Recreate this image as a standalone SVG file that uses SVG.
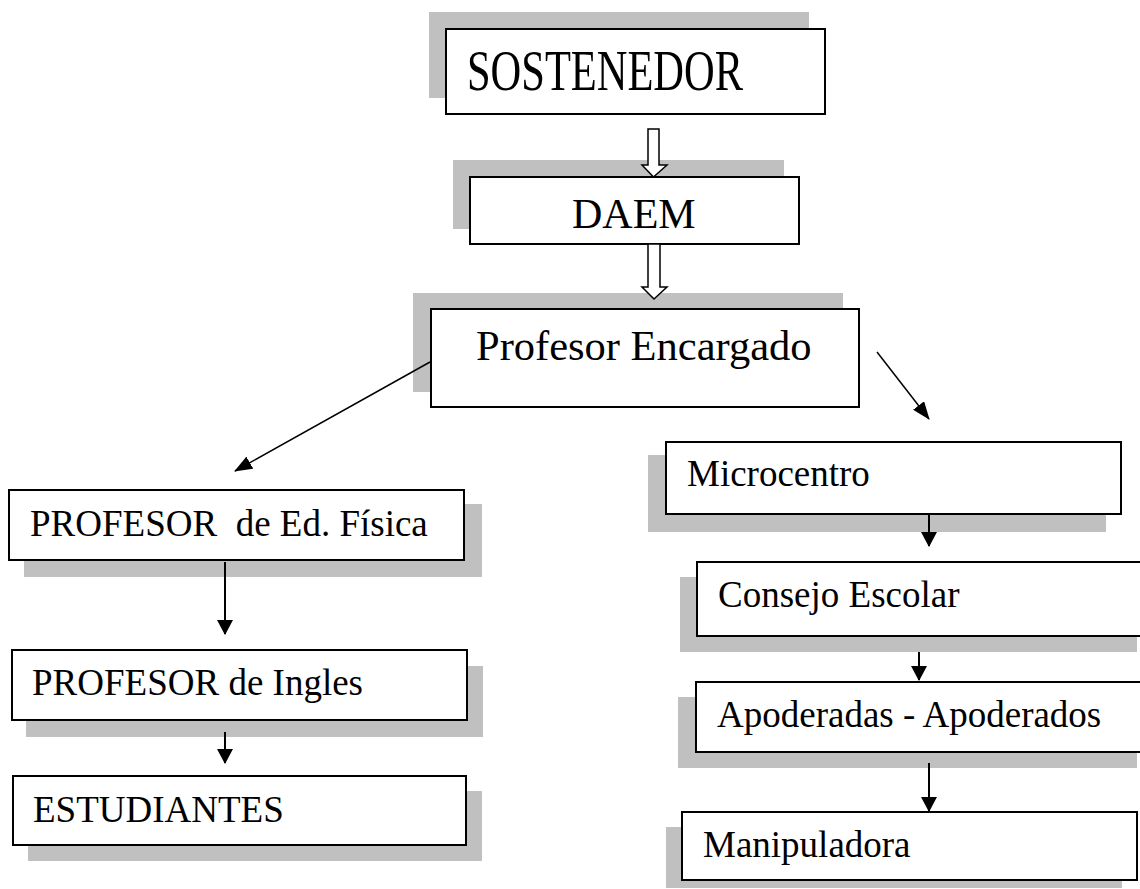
<svg xmlns="http://www.w3.org/2000/svg" width="1140" height="889" viewBox="0 0 1140 889">
<style>
.sh{fill:#c0c0c0;stroke:none}
.bx{fill:#fff;stroke:#000;stroke-width:2}
text{font-family:"Liberation Serif","DejaVu Serif","Times New Roman",serif;fill:#000}
.c{stroke:#000;stroke-width:2;fill:none}
.d{stroke:#000;stroke-width:1.5;fill:none}
.h{fill:#fff;stroke:#000;stroke-width:1.5}
</style>
<defs>
<marker id="ah" viewBox="0 0 15 16" refX="14" refY="8" markerWidth="15" markerHeight="16" markerUnits="userSpaceOnUse" orient="auto">
<path d="M0,0 L15,8 L0,16 z" fill="#000"/>
</marker>
<marker id="ah2" viewBox="0 0 18 14" refX="17" refY="7" markerWidth="18" markerHeight="14" markerUnits="userSpaceOnUse" orient="auto">
<path d="M0,0 L18,7 L0,14 z" fill="#000"/>
</marker>
</defs>
<rect width="1140" height="889" fill="#fff"/>

<g id="sostenedor">
<rect class="sh" x="429" y="12" width="380" height="86"/>
<rect class="bx" x="446" y="29" width="379" height="85"/>
<text x="467" y="90" font-family="Liberation Serif, serif" font-size="58" textLength="276" lengthAdjust="spacingAndGlyphs">SOSTENEDOR</text>
</g>

<g id="daem">
<rect class="sh" x="453" y="160" width="331" height="69"/>
<rect class="bx" x="470" y="177" width="329" height="67"/>
<text x="572" y="228" font-family="Liberation Serif, serif" font-size="42">DAEM</text>
</g>

<g id="profesor-encargado">
<rect class="sh" x="413" y="293" width="430" height="99"/>
<rect class="bx" x="431" y="309" width="428" height="98"/>
<text x="476" y="360" font-family="Liberation Serif, serif" font-size="42.5">Profesor Encargado</text>
</g>

<g id="profesor-ed-fisica">
<rect class="sh" x="24" y="504" width="458" height="73"/>
<rect class="bx" x="9" y="490" width="455" height="70"/>
<text x="30" y="536" font-family="Liberation Serif, serif" font-size="37" xml:space="preserve">PROFESOR  de Ed. Física</text>
</g>

<g id="profesor-ingles">
<rect class="sh" x="26" y="666" width="457" height="71"/>
<rect class="bx" x="12" y="650" width="455" height="70"/>
<text x="32" y="695" font-family="Liberation Serif, serif" font-size="37">PROFESOR de Ingles</text>
</g>

<g id="estudiantes">
<rect class="sh" x="28" y="791" width="454" height="70"/>
<rect class="bx" x="13" y="776" width="453" height="69"/>
<text x="33" y="822" font-family="Liberation Serif, serif" font-size="37">ESTUDIANTES</text>
</g>

<g id="microcentro">
<rect class="sh" x="648" y="455" width="458" height="77"/>
<rect class="bx" x="666" y="442" width="455" height="72"/>
<text x="687" y="486" font-family="Liberation Serif, serif" font-size="37">Microcentro</text>
</g>

<g id="consejo-escolar">
<rect class="sh" x="680" y="577" width="457" height="75"/>
<rect class="bx" x="697" y="562" width="460" height="74"/>
<text x="718" y="607" font-family="Liberation Serif, serif" font-size="37">Consejo Escolar</text>
</g>

<g id="apoderados">
<rect class="sh" x="678" y="697" width="459" height="71"/>
<rect class="bx" x="696" y="682" width="460" height="70"/>
<text x="717" y="727" font-family="Liberation Serif, serif" font-size="37">Apoderadas - Apoderados</text>
</g>

<g id="manipuladora">
<rect class="sh" x="666" y="827" width="456" height="61"/>
<rect class="bx" x="682" y="812" width="455" height="68"/>
<text x="703" y="857" font-family="Liberation Serif, serif" font-size="37">Manipuladora</text>
</g>

<g id="connectors">
<path class="h" d="M648,129 L659,129 L659,165 L667,165 L653.5,177 L642,165 L648,165 Z"/>
<path class="h" d="M648,244 L660,244 L660,287 L667,287 L654,299 L642,287 L648,287 Z"/>
<line class="d" x1="430" y1="362" x2="235" y2="471" marker-end="url(#ah2)"/>
<line class="d" x1="877" y1="352" x2="929" y2="419" marker-end="url(#ah2)"/>
<line class="c" x1="225" y1="562" x2="225" y2="634" marker-end="url(#ah)"/>
<line class="c" x1="225" y1="732" x2="225" y2="763" marker-end="url(#ah)"/>
<line class="c" x1="929" y1="514" x2="929" y2="546" marker-end="url(#ah)"/>
<line class="c" x1="919" y1="652" x2="919" y2="680" marker-end="url(#ah)"/>
<line class="c" x1="929" y1="763" x2="929" y2="811" marker-end="url(#ah)"/>
</g>
</svg>
